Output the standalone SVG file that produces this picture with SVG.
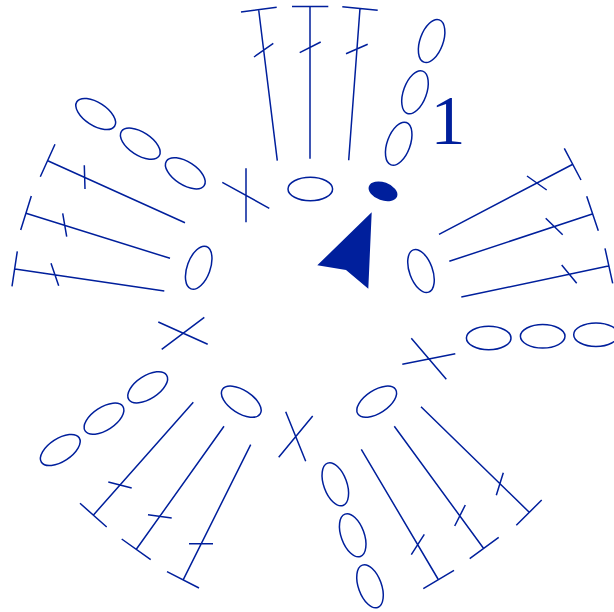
<svg xmlns="http://www.w3.org/2000/svg" width="614" height="612" viewBox="0 0 614 612">
<style>
.o{fill:none;stroke:#001f9c;stroke-width:1.5}
.f{fill:#001f9c;stroke:none}
path{fill:none;stroke:#001f9c;stroke-width:1.5}
text{font-family:"Liberation Serif",serif;font-size:70px;fill:#001f9c}
</style>
<rect width="614" height="612" fill="#fff"/>
<g id="connectors">
<path d="M310 158.7V6.5M292 6.5H328.3M299.7 52.7L320.7 42"/>
<path d="M348.7 160.3L360 8.3M342.3 6.7L377.7 10.3M346 53.7L367.7 44.3"/>
<path d="M277.3 160.7L258.7 10M241 12L276.7 7.3M254 57L273.3 43.3"/>
<path d="M439 234.3L573.3 164M564.3 148.3L581 180M527 176L546.7 190"/>
<path d="M449.3 261.3L592.3 214M586.7 196.3L598.3 230.7M545.7 218.3L562.7 234.7"/>
<path d="M461.3 297L608.3 266M605 248.3L612.7 283.3M561.7 265L576.7 283.3"/>
<path d="M185 222.7L48.3 161M55 144.3L40.3 176.7M84.3 165.3L85 189"/>
<path d="M170 258.3L26 213.3M31.3 196L20.7 230M62.7 213.3L66.7 236.7"/>
<path d="M164.3 291L15 269M17.3 251.3L12 286.3M51 263.3L58.7 285.7"/>
<path d="M193.3 402.3L93.7 514.7M80 503.3L106.7 527M108.3 482L131.7 488"/>
<path d="M224 426.3L136.3 549.3M121.7 539L150.7 559.7M148 514.7L171.7 518"/>
<path d="M250.7 444.7L183.3 579.7M167 571.7L199 588M189 543.7H213"/>
<path d="M421 406.7L529 512M541.7 500L516.3 525.3M503.3 472.7L496.3 495.3"/>
<path d="M394.3 426.3L483.3 548M498.7 537.3L469.7 558.7M465.3 505L454.7 526"/>
<path d="M361.3 449.3L438 579M454 570.3L423.3 588.7M424.3 534.3L411.3 554.7"/>
<path d="M222.3 182.3L269.3 208.3M246 168.3V222.3"/>
<path d="M158.3 322L207.7 344.3M204.3 317.3L161.7 349.3"/>
<path d="M285.7 411.7L305.7 461.3M312.7 416L278.7 457.3"/>
<path d="M411.3 338.3L446.3 379.3M402.3 364.3L455.3 353.7"/>
</g>
<g id="n1"><ellipse class="o" cx="431.6" cy="41" rx="11.5" ry="22.5" transform="rotate(20 431.6 41)"/></g>
<g id="n2"><ellipse class="o" cx="415" cy="92.3" rx="11.5" ry="22.5" transform="rotate(20 415 92.3)"/></g>
<g id="n3"><ellipse class="o" cx="398.7" cy="143.7" rx="11.5" ry="22.5" transform="rotate(20 398.7 143.7)"/></g>
<g id="n4"><ellipse class="f" cx="383" cy="191.3" rx="15" ry="9" transform="rotate(20 383 191.3)"/></g>
<g id="n5"><ellipse class="o" cx="310.3" cy="189" rx="22.3" ry="11.7"/></g>
<g id="n6"><ellipse class="o" cx="421" cy="271" rx="11.5" ry="22.5" transform="rotate(-20 421 271)"/></g>
<g id="n7"><ellipse class="o" cx="95.7" cy="114" rx="22.5" ry="11.5" transform="rotate(33 95.7 114)"/></g>
<g id="n8"><ellipse class="o" cx="140.3" cy="143.7" rx="22.5" ry="11.5" transform="rotate(33 140.3 143.7)"/></g>
<g id="n9"><ellipse class="o" cx="185.3" cy="173.3" rx="22.5" ry="11.5" transform="rotate(33 185.3 173.3)"/></g>
<g id="n10"><ellipse class="o" cx="198.7" cy="267.7" rx="11.5" ry="22.5" transform="rotate(20 198.7 267.7)"/></g>
<g id="n11"><ellipse class="o" cx="147.7" cy="387.3" rx="22.5" ry="11.5" transform="rotate(-33 147.7 387.3)"/></g>
<g id="n12"><ellipse class="o" cx="104" cy="418.7" rx="22.5" ry="11.5" transform="rotate(-33 104 418.7)"/></g>
<g id="n13"><ellipse class="o" cx="60.3" cy="450" rx="22.5" ry="11.5" transform="rotate(-33 60.3 450)"/></g>
<g id="n14"><ellipse class="o" cx="241.3" cy="401.7" rx="22.5" ry="11.5" transform="rotate(33 241.3 401.7)"/></g>
<g id="n15"><ellipse class="o" cx="376.7" cy="401.7" rx="22.5" ry="11.5" transform="rotate(-33 376.7 401.7)"/></g>
<g id="n16"><ellipse class="o" cx="335.3" cy="484.3" rx="11.5" ry="22.5" transform="rotate(-20 335.3 484.3)"/></g>
<g id="n17"><ellipse class="o" cx="352.7" cy="535.3" rx="11.5" ry="22.5" transform="rotate(-20 352.7 535.3)"/></g>
<g id="n18"><ellipse class="o" cx="370" cy="586.3" rx="11.5" ry="22.5" transform="rotate(-20 370 586.3)"/></g>
<g id="n19"><ellipse class="o" cx="488.7" cy="338" rx="22.3" ry="11.7"/></g>
<g id="n20"><ellipse class="o" cx="542.7" cy="336.3" rx="22.3" ry="11.7"/></g>
<g id="n21"><ellipse class="o" cx="596" cy="334.7" rx="22.3" ry="11.7"/></g>
<g id="arrow"><polygon class="f" points="371.7,212.3 317.3,265.3 346,270 368.3,288.7"/></g>
<g id="label"><text x="430.5" y="144">1</text></g>
</svg>
